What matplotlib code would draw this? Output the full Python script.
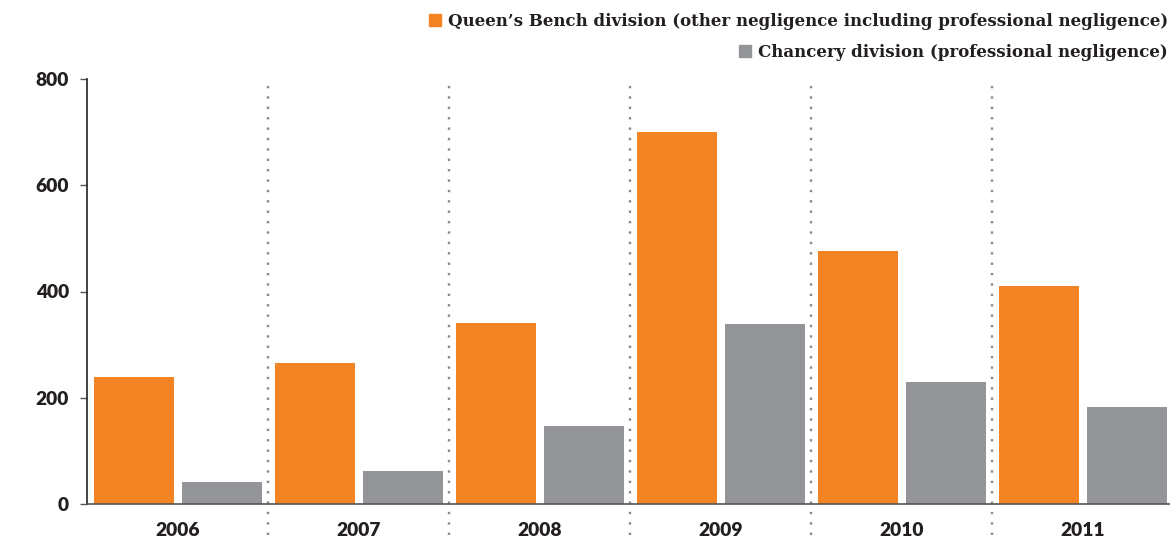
import matplotlib
matplotlib.use("Agg")
from matplotlib import pyplot as plt
from matplotlib.patches import Rectangle
import numpy as np

years = ["2006", "2007", "2008", "2009", "2010", "2011"]
queens_bench = [239, 265, 341, 700, 476, 410]
chancery = [41, 62, 147, 339, 230, 183]
yticks = [0, 200, 400, 600, 800]

label_qb = "Queen\u2019s Bench division (other negligence including professional negligence)"
label_ch = "Chancery division (professional negligence)"

ORANGE = "#F38423"
GREY = "#939598"
TEXT = "#231F20"


def main():
  W, H = 1170, 539
  fig = plt.figure(figsize=(W / 100, H / 100), dpi=100)
  ax = fig.add_axes([87 / W, 35 / H, 1086 / W, 425 / H])

  x = np.arange(len(years))
  ax.bar(x - 0.24, queens_bench, width=0.442, color=ORANGE, zorder=2)
  ax.bar(x + 0.245, chancery, width=0.442, color=GREY, zorder=2)

  for i in range(len(years) - 1):
    ax.axvline(i + 0.5, ymin=-0.073, ymax=1.0, color="#8a8a80", linestyle=(0, (1, 3.4)),
               linewidth=1.7, clip_on=False, zorder=1)

  ax.set_xlim(-0.5, len(years) - 0.5)
  ax.set_ylim(0, 800)
  ax.set_yticks(yticks)
  ax.set_yticklabels([str(v) for v in yticks])
  ax.set_xticks(x)
  ax.set_xticklabels(years)

  for lbl in ax.get_yticklabels() + ax.get_xticklabels():
    lbl.set_fontfamily("Lato")
    lbl.set_fontweight("heavy")
    lbl.set_fontsize(13.8)
    lbl.set_color(TEXT)

  ax.tick_params(axis="y", length=5, width=1, color="#555555", pad=8)
  ax.tick_params(axis="x", length=0, pad=13)

  for s in ["top", "right"]:
    ax.spines[s].set_visible(False)
  ax.spines["left"].set_color("#222222")
  ax.spines["left"].set_linewidth(1.2)
  ax.spines["bottom"].set_color("#555555")
  ax.spines["bottom"].set_linewidth(1.2)

  # legend, right aligned at the top
  fig.canvas.draw()
  renderer = fig.canvas.get_renderer()
  for label, color, ybase in [(label_qb, ORANGE, 26), (label_ch, GREY, 57)]:
    t = fig.text(1168 / W, 1 - ybase / H, label, ha="right", va="baseline",
                 fontfamily="DejaVu Serif", fontweight="bold", fontsize=12, color=TEXT)
    bb = t.get_window_extent(renderer)
    sq = 12
    fig.add_artist(Rectangle(((bb.x0 - 7 - sq) / W, (H - ybase) / H), sq / W, sq / H,
                             transform=fig.transFigure, color=color))

  fig.savefig("out.png", dpi=100)


if __name__ == "__main__":
  main()
